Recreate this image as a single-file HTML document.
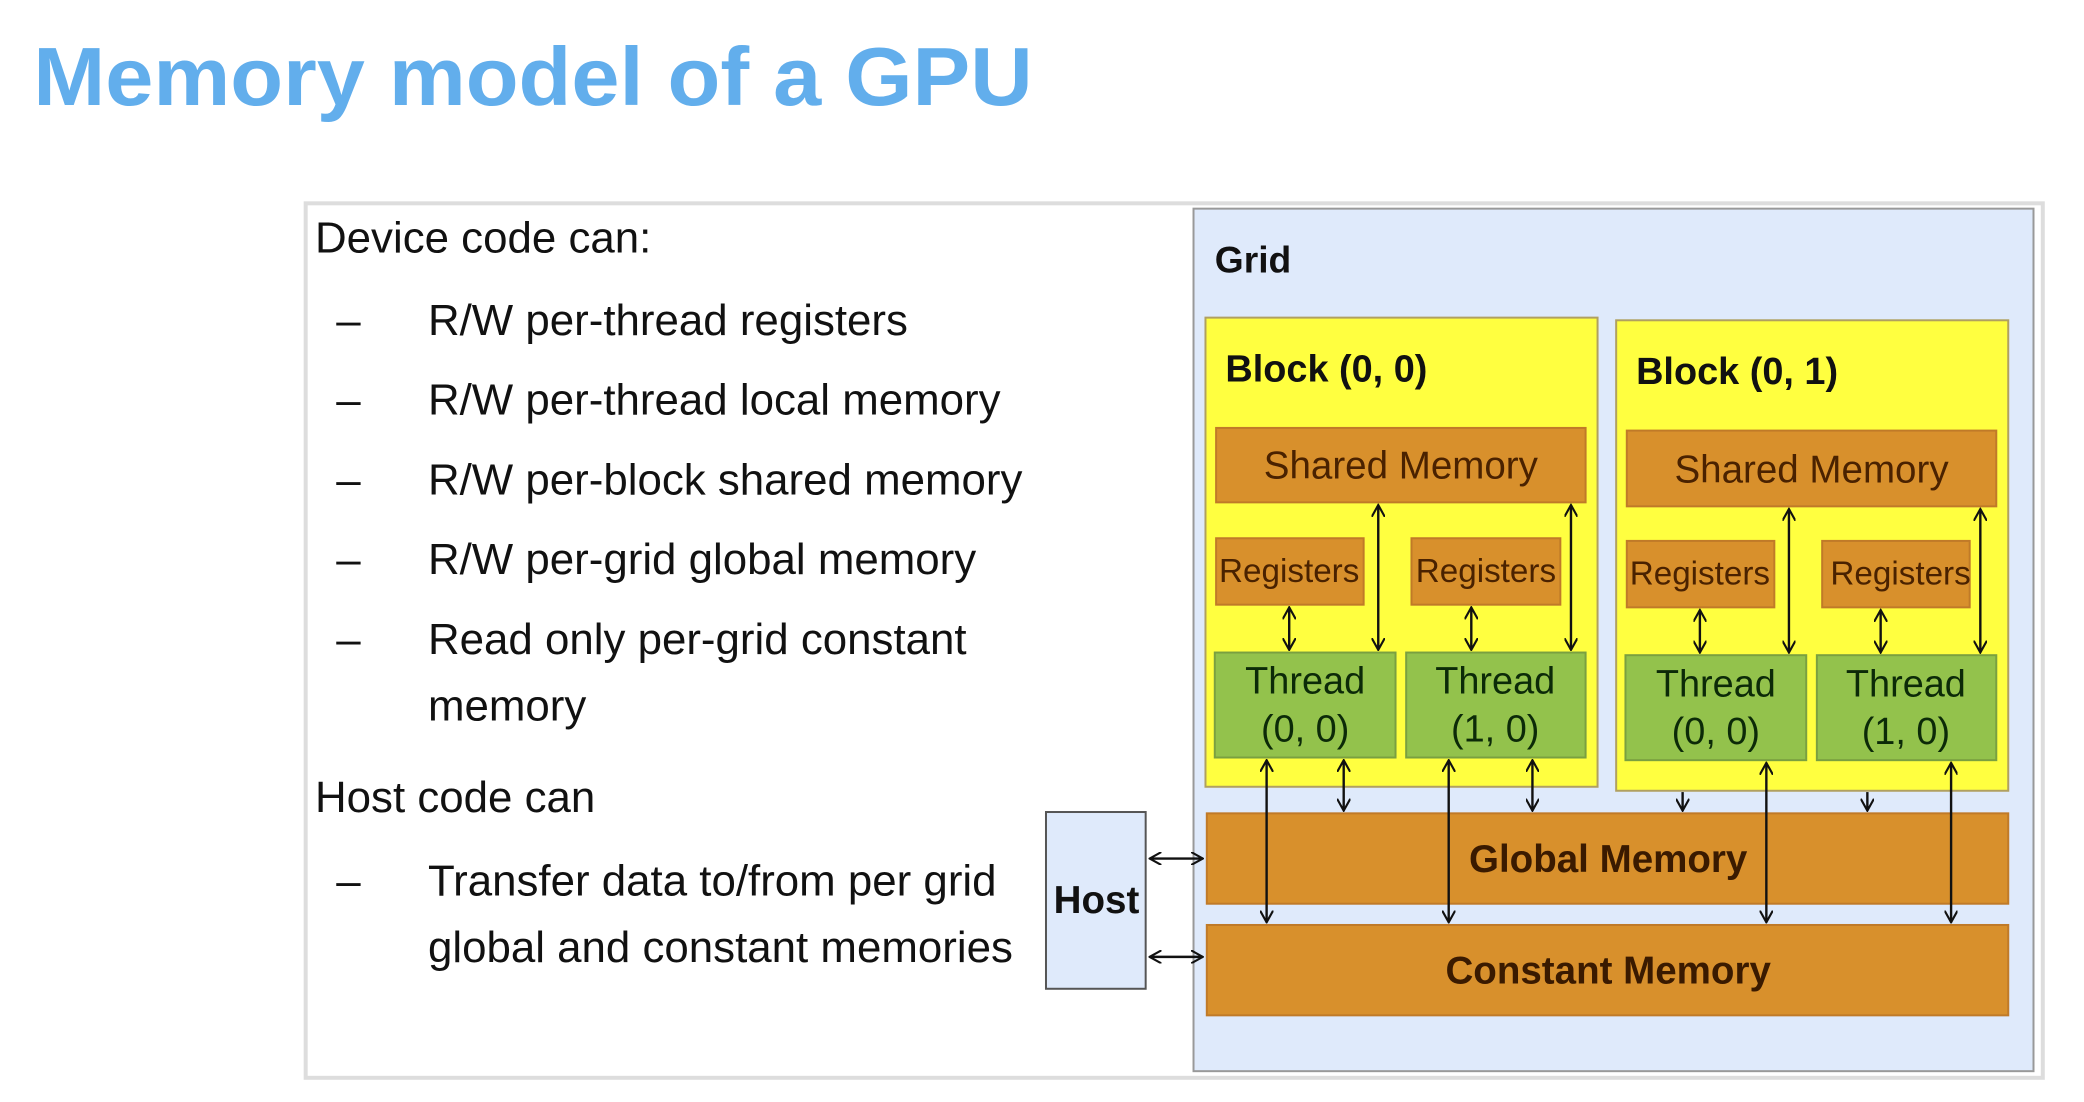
<!DOCTYPE html>
<html><head><meta charset="utf-8"><style>
html,body{margin:0;padding:0;background:#fff;}
svg{display:block;}
text{font-family:"Liberation Sans",Arial,sans-serif;}
</style></head><body>
<svg width="2084" height="1102" viewBox="0 0 1568 829.2" preserveAspectRatio="none" xmlns="http://www.w3.org/2000/svg">
<defs>
<marker id="a" viewBox="0 0 10 10" refX="9" refY="5" markerWidth="10" markerHeight="10" orient="auto-start-reverse" markerUnits="userSpaceOnUse"><path d="M0,0 L9,5 L0,10" fill="none" stroke="#111" stroke-width="1.6"/></marker>
</defs>
<text x="25" y="79" font-size="62" font-weight="bold" fill="#62aeec" textLength="752" lengthAdjust="spacingAndGlyphs">Memory model of a GPU</text>
<rect x="230" y="153" width="1307" height="658" fill="#fff" stroke="#ddd" stroke-width="3"/>
<g font-size="33" fill="#111">
<text x="237" y="190">Device code can:</text>
<text x="253" y="252">–</text><text x="322" y="252">R/W per-thread registers</text>
<text x="253" y="312">–</text><text x="322" y="312">R/W per-thread local memory</text>
<text x="253" y="372">–</text><text x="322" y="372">R/W per-block shared memory</text>
<text x="253" y="432">–</text><text x="322" y="432">R/W per-grid global memory</text>
<text x="253" y="492">–</text><text x="322" y="492">Read only per-grid constant</text>
<text x="322" y="542">memory</text>
<text x="237" y="611">Host code can</text>
<text x="253" y="674">–</text><text x="322" y="674">Transfer data to/from per grid</text>
<text x="322" y="724">global and constant memories</text>
</g>
<rect x="898" y="157" width="632" height="649" fill="#dfeafb" stroke="#999" stroke-width="1.5"/>
<text x="914" y="205" font-size="28" font-weight="bold" fill="#111">Grid</text>
<g stroke="#b0a060" stroke-width="1.5">
<rect x="907" y="239" width="295" height="353" fill="#ffff40"/>
<rect x="1216" y="241" width="295" height="354" fill="#ffff40"/>
</g>
<g font-size="28.5" font-weight="bold" fill="#111">
<text x="922" y="287">Block (0, 0)</text>
<text x="1231" y="289">Block (0, 1)</text>
</g>
<g fill="#d8902c" stroke="#c07a28" stroke-width="1.5">
<rect x="915" y="322" width="278" height="56"/>
<rect x="1224" y="324" width="278" height="57"/>
<rect x="915" y="405" width="111" height="50"/>
<rect x="1062" y="405" width="112" height="50"/>
<rect x="1224" y="407" width="111" height="50"/>
<rect x="1371" y="407" width="111" height="50"/>
<rect x="908" y="612" width="603" height="68"/>
<rect x="908" y="696" width="603" height="68"/>
</g>
<g fill="#93c24c" stroke="#7aa040" stroke-width="1.5">
<rect x="914" y="491" width="136" height="79"/>
<rect x="1058" y="491" width="135" height="79"/>
<rect x="1223" y="493" width="136" height="79"/>
<rect x="1367" y="493" width="135" height="79"/>
</g>
<g font-size="29" fill="#4a2200" text-anchor="middle">
<text x="1054" y="360">Shared Memory</text>
<text x="1363" y="363">Shared Memory</text>
<g font-size="25">
<text x="970" y="438">Registers</text>
<text x="1118" y="438">Registers</text>
<text x="1279" y="440">Registers</text>
<text x="1430" y="440">Registers</text>
</g>
</g>
<g font-size="28.5" fill="#0c2a08" text-anchor="middle">
<text x="982" y="522">Thread</text><text x="982" y="558">(0, 0)</text>
<text x="1125" y="522">Thread</text><text x="1125" y="558">(1, 0)</text>
<text x="1291" y="524">Thread</text><text x="1291" y="560">(0, 0)</text>
<text x="1434" y="524">Thread</text><text x="1434" y="560">(1, 0)</text>
</g>
<g font-size="29" font-weight="bold" fill="#3a1a00" text-anchor="middle">
<text x="1210" y="656">Global Memory</text>
<text x="1210" y="740">Constant Memory</text>
</g>
<rect x="787" y="611" width="75" height="133" fill="#dfeafb" stroke="#555" stroke-width="1.5"/>
<text x="825" y="687" font-size="29" font-weight="bold" fill="#111" text-anchor="middle">Host</text>
<g stroke="#111" stroke-width="1.8" marker-start="url(#a)" marker-end="url(#a)">
<line x1="865" y1="646" x2="905" y2="646"/>
<line x1="865" y1="720" x2="905" y2="720"/>
<line x1="970" y1="457" x2="970" y2="489"/>
<line x1="1107" y1="457" x2="1107" y2="489"/>
<line x1="1279" y1="459" x2="1279" y2="491"/>
<line x1="1415" y1="459" x2="1415" y2="491"/>
<line x1="1037" y1="380" x2="1037" y2="489"/>
<line x1="1182" y1="380" x2="1182" y2="489"/>
<line x1="1346" y1="383" x2="1346" y2="491"/>
<line x1="1490" y1="383" x2="1490" y2="491"/>
<line x1="1011" y1="572" x2="1011" y2="610"/>
<line x1="1153" y1="572" x2="1153" y2="610"/>
<line x1="953" y1="572" x2="953" y2="694"/>
<line x1="1090" y1="572" x2="1090" y2="694"/>
<line x1="1329" y1="574" x2="1329" y2="694"/>
<line x1="1468" y1="574" x2="1468" y2="694"/>
</g>
<g stroke="#111" stroke-width="1.8" marker-end="url(#a)">
<line x1="1266" y1="596" x2="1266" y2="610"/>
<line x1="1405" y1="596" x2="1405" y2="610"/>
</g>
</svg>
</body></html>
